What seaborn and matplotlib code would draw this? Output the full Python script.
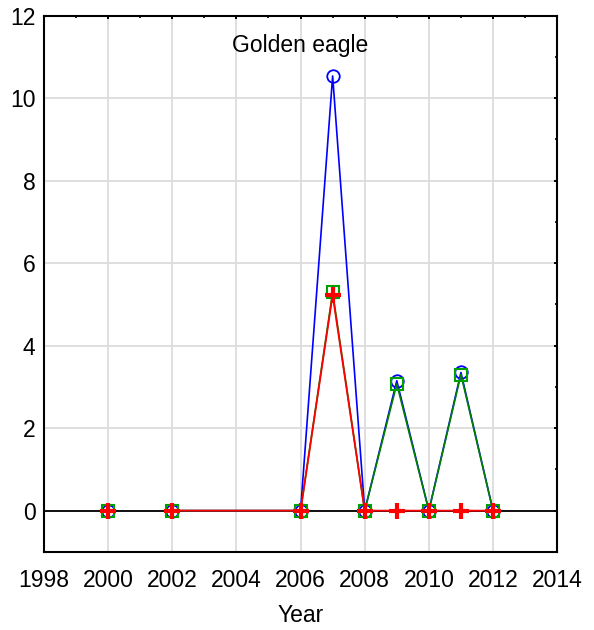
import numpy as np
import pandas as pd
import matplotlib
matplotlib.use('Agg')
import matplotlib.pyplot as plt
import seaborn as sns
from matplotlib.ticker import MultipleLocator

years = [2000, 2002, 2006, 2007, 2008, 2009, 2010, 2011, 2012]
# 2000 stands alone, the line starts again at 2002
segment = [0, 1, 1, 1, 1, 1, 1, 1, 1]
blue_vals = [0, 0, 0, 10.54, 0, 3.15, 0, 3.35, 0]
green_vals = [0, 0, 0, 5.30, 0, 3.07, 0, 3.30, 0]
red_vals = [0, 0, 0, 5.23, 0, 0, 0, 0, 0]

df = pd.DataFrame({'Year': years, 'seg': segment,
                   'blue': blue_vals, 'green': green_vals, 'red': red_vals})

sns.set_style('white')
plt.rcParams['font.family'] = ['Liberation Sans', 'DejaVu Sans']
plt.rcParams['text.color'] = 'black'
plt.rcParams['xtick.color'] = 'black'
plt.rcParams['ytick.color'] = 'black'
plt.rcParams['axes.labelcolor'] = 'black'

fig = plt.figure(figsize=(5.94, 6.30), dpi=100)
ax = fig.add_axes([0.074, 0.124, 0.864, 0.851])

ax.grid(True, which='major', color='#dcdcdc', linewidth=1.3)
ax.set_axisbelow(True)
ax.axhline(0, color='black', linewidth=1.3, zorder=1.5)

sns.lineplot(data=df, x='Year', y='blue', units='seg', estimator=None, ax=ax,
             color='#0000ff', linewidth=1.2, marker='o', markersize=9,
             markerfacecolor='none', markeredgecolor='#0000ff', markeredgewidth=1.3)
sns.lineplot(data=df, x='Year', y='green', units='seg', estimator=None, ax=ax,
             color='#008000', linewidth=1.2, marker='s', markersize=8,
             markerfacecolor='none', markeredgecolor='#00a000', markeredgewidth=1.5)
sns.lineplot(data=df, x='Year', y='red', units='seg', estimator=None, ax=ax,
             color='#ff0000', linewidth=1.3, marker='+', markersize=11,
             markeredgecolor='#ff0000', markeredgewidth=3)

ax.set_xlim(1998, 2014)
ax.set_ylim(-1, 12)
ax.xaxis.set_major_locator(MultipleLocator(2))
ax.xaxis.set_minor_locator(MultipleLocator(1))
ax.yaxis.set_major_locator(MultipleLocator(2))
ax.yaxis.set_minor_locator(MultipleLocator(1))
ax.tick_params(which='both', direction='in', top=True, right=True,
               labelsize=16.5, color='black')
ax.tick_params(axis='x', pad=12)
ax.tick_params(axis='y', pad=6)
ax.tick_params(which='major', length=2, width=1.4)
ax.tick_params(which='minor', length=1.5, width=1.2)
for s in ax.spines.values():
    s.set_color('black')
    s.set_linewidth(1.5)

ax.set_xlabel('Year', fontsize=16.5, labelpad=9)
ax.set_ylabel('')
ax.text(0.5, 0.945, 'Golden eagle', transform=ax.transAxes,
        ha='center', va='center', fontsize=16.5)

fig.savefig('out.png', dpi=100)
